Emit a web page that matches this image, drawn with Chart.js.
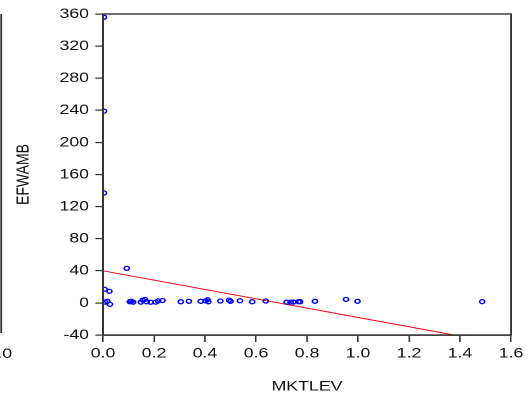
<!DOCTYPE html>
<html>
<head>
<meta charset="utf-8">
<script src="https://cdn.jsdelivr.net/npm/chart.js@4.4.1/dist/chart.umd.min.js"></script>
<style>
  html, body { margin: 0; padding: 0; background: #fff; overflow: hidden; }
  /* the reference picture is stretched sideways, so the canvas is too */
  #wrap { width: 417px; height: 400px; transform: scaleX(1.2686); transform-origin: 0 0; }
</style>
</head>
<body>
<div id="wrap"><canvas id="scatter" width="417" height="400"></canvas></div>
<script>
// --- Data ---
const mktlev = [0.004, 0.004, 0.004, 0.093, 0.006, 0.025, 0.008, 0.017, 0.027,
  0.105, 0.111, 0.118, 0.148, 0.156, 0.164, 0.171, 0.187, 0.207, 0.216, 0.233,
  0.305, 0.337, 0.383, 0.403, 0.410, 0.413, 0.460, 0.494, 0.500, 0.537, 0.585,
  0.638, 0.720, 0.736, 0.746, 0.767, 0.773, 0.831, 0.953, 0.998, 1.487];
const efwamb = [356, 239, 137, 43, 17, 14.5, 1, 2, -1.7,
  1.5, 2, 1, 1, 3.5, 4.4, 1.5, 0.8, 1, 2.5, 3,
  1.5, 2, 2, 2.5, 4, 1.5, 2.4, 3.5, 2, 2.7, 1.5,
  2.4, 1, 1, 1, 1.5, 1.5, 2, 4.4, 2, 1.6];

// fitted line, ends where it leaves the bottom of the frame
const fitX = [0, 1.376];
const fitY = [40, -40];

const xMin = 0, xMax = 1.6, xStep = 0.2;
const yMin = -40, yMax = 360, yStep = 40;

const S = 1.2686; // sideways stretch
const FONT = { family: 'Arial, "Liberation Sans", sans-serif', size: 14 };
const INK = '#111';
const AXIS = '#333';

// frame on top and right, plus the cut-off edge of the panel to the left
const framePlugin = {
  id: 'frame',
  afterDraw(chart) {
    const { ctx, chartArea: a } = chart;
    ctx.save();
    ctx.strokeStyle = AXIS;
    ctx.lineWidth = 1.4;
    ctx.strokeRect(a.left, a.top, a.right - a.left, a.bottom - a.top);
    ctx.beginPath();
    ctx.moveTo(0.9, a.top);
    ctx.lineTo(0.9, a.bottom - 2);
    ctx.stroke();
    ctx.fillStyle = INK;
    ctx.font = '14px Arial, "Liberation Sans", sans-serif';
    ctx.textAlign = 'right';
    ctx.textBaseline = 'top';
    ctx.fillText('1.0', 9.5, 347);
    ctx.restore();
  }
};

new Chart(document.getElementById('scatter'), {
  type: 'scatter',
  data: {
    datasets: [
      {
        label: 'EFWAMB',
        data: mktlev.map((x, i) => ({ x, y: efwamb[i] })),
        borderColor: '#0000ff',
        backgroundColor: 'transparent',
        pointRadius: 2,
        borderWidth: 1.3,
        order: 1
      },
      {
        label: 'fit',
        type: 'line',
        data: fitX.map((x, i) => ({ x, y: fitY[i] })),
        borderColor: '#ff0000',
        borderWidth: 1,
        pointRadius: 0,
        order: 2
      }
    ]
  },
  options: {
    responsive: false,
    devicePixelRatio: 2,
    animation: false,
    layout: { padding: { top: 14, right: 14.2, bottom: 0, left: 0 } },
    plugins: { legend: { display: false }, tooltip: { enabled: false } },
    scales: {
      x: {
        type: 'linear',
        min: xMin, max: xMax,
        afterFit: s => { s.height = 65; },
        ticks: {
          stepSize: xStep,
          color: INK,
          font: FONT,
          padding: 3,
          maxRotation: 0,
          callback: v => v.toFixed(1)
        },
        grid: { drawOnChartArea: false, tickLength: 7, color: AXIS, lineWidth: 1.2 },
        border: { color: AXIS, width: 1.4 },
        title: { display: true, text: 'MKTLEV', color: INK, font: FONT, padding: { top: 0, bottom: 5 } }
      },
      y: {
        min: yMin, max: yMax,
        afterFit: s => { s.width = 103 / S; },
        ticks: { stepSize: yStep, color: INK, font: FONT, padding: 5 },
        grid: { drawOnChartArea: false, tickLength: 6, color: AXIS, lineWidth: 1.2 },
        border: { color: AXIS, width: 1.4 },
        title: { display: true, text: 'EFWAMB', color: INK, font: FONT, padding: { top: 10, bottom: 0 } }
      }
    }
  },
  plugins: [framePlugin]
});
</script>
</body>
</html>
